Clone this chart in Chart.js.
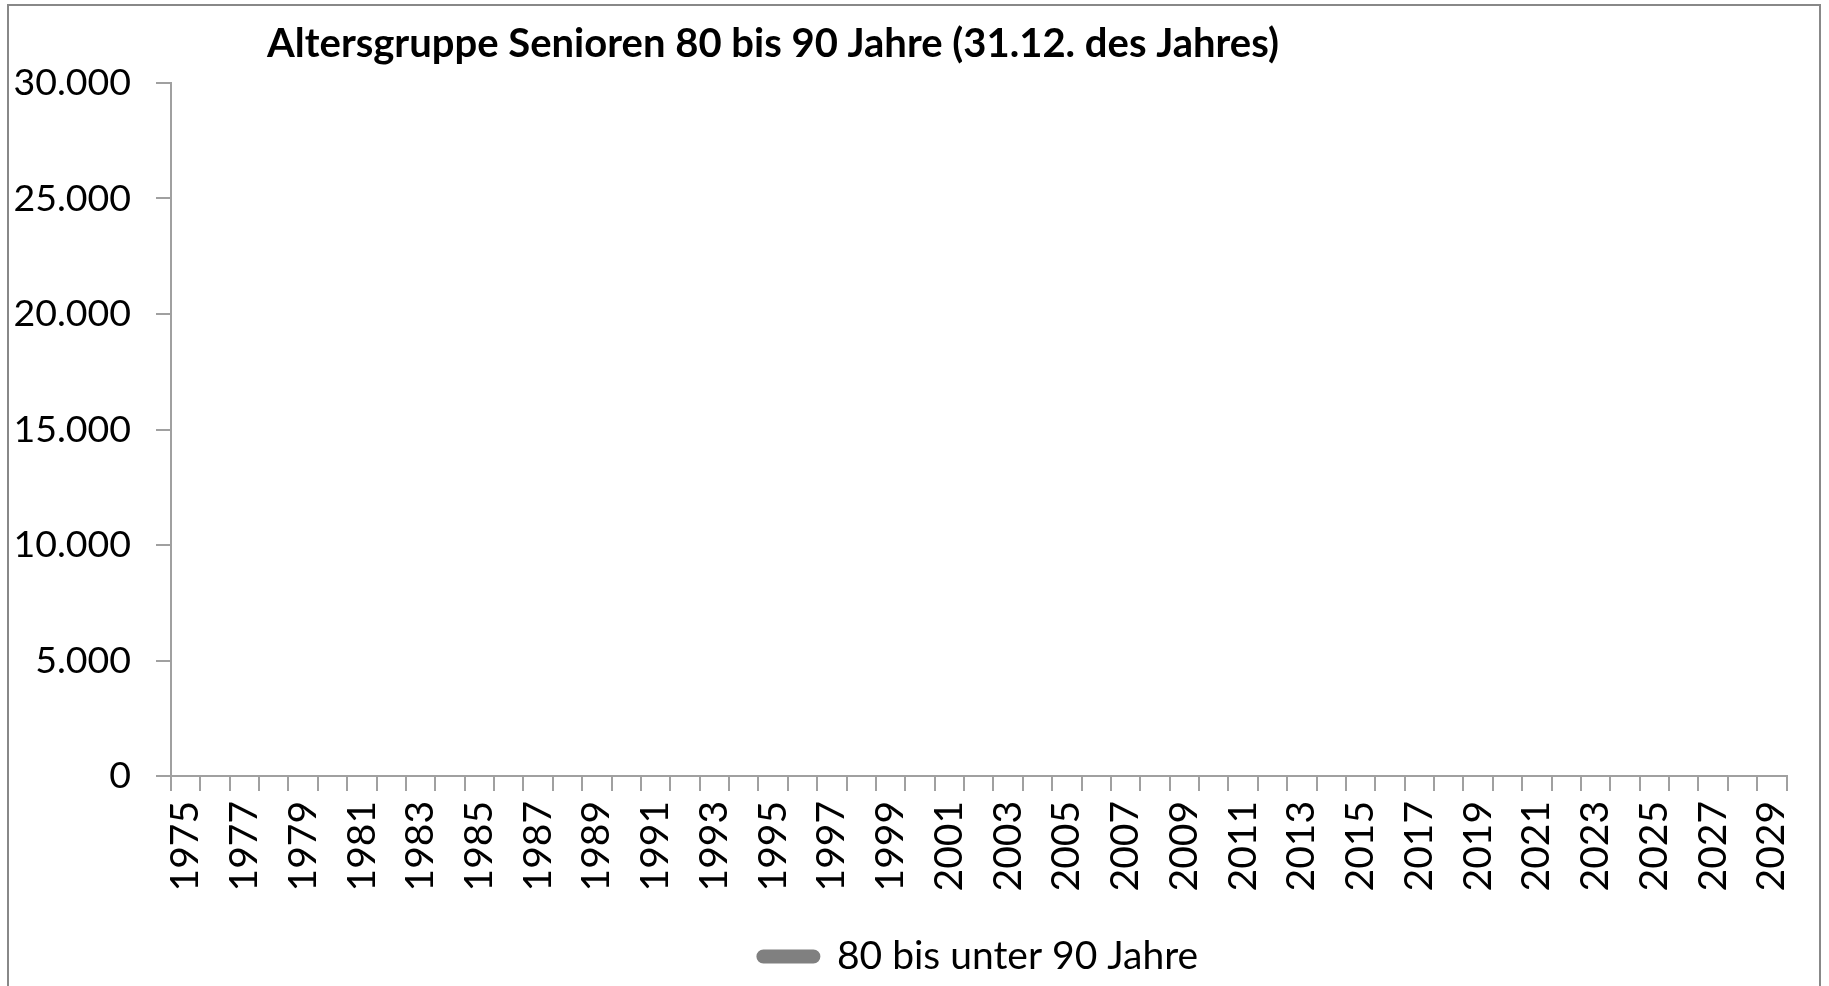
<!DOCTYPE html>
<html>
<head>
<meta charset="utf-8">
<script src="https://cdn.jsdelivr.net/npm/chart.js@4/dist/chart.umd.min.js"></script>
<style>
  html, body { margin: 0; padding: 0; background: #fff; overflow: hidden; }
  #frame { position: absolute; left: 7px; top: 4px; width: 1814px; height: 1000px; border: 2px solid #888; box-sizing: border-box; }
  #wrap { position: absolute; left: 0; top: 0; width: 1829px; height: 986px; }
</style>
</head>
<body>
<div id="frame"></div>
<div id="wrap"><canvas id="chart"></canvas></div>
<script>
// Jahre 1975 - 2029
const jahre = ['1975','1976','1977','1978','1979','1980','1981','1982','1983','1984','1985','1986','1987','1988','1989','1990','1991','1992','1993','1994','1995','1996','1997','1998','1999','2000','2001','2002','2003','2004','2005','2006','2007','2008','2009','2010','2011','2012','2013','2014','2015','2016','2017','2018','2019','2020','2021','2022','2023','2024','2025','2026','2027','2028','2029'];

// keine Werte im Bild sichtbar
const senioren80bis90 = [null,null,null,null,null,null,null,null,null,null,null,null,null,null,null,null,null,null,null,null,null,null,null,null,null,null,null,null,null,null,null,null,null,null,null,null,null,null,null,null,null,null,null,null,null,null,null,null,null,null,null,null,null,null,null];

const yTicks = [0, 5000, 10000, 15000, 20000, 25000, 30000];

const titel = 'Altersgruppe Senioren 80 bis 90 Jahre (31.12. des Jahres)';

Chart.defaults.font.family = 'Lato, "Open Sans", sans-serif';
Chart.defaults.color = '#000';

// Titel etwas links von der Mitte, wie im Original
const titelPlugin = {
    id: 'titelPlugin',
    afterDraw(chart) {
        const c = chart.ctx;
        c.save();
        c.font = 'bold 40px Lato, "Open Sans", sans-serif';
        c.fillStyle = '#000';
        c.textAlign = 'center';
        c.textBaseline = 'middle';
        c.fillText(titel, 773, 44);
        c.restore();
    }
};

const ctx = document.getElementById('chart').getContext('2d');
new Chart(ctx, {
    type: 'line',
    data: {
        labels: jahre,
        datasets: [{
            label: '80 bis unter 90 Jahre',
            data: senioren80bis90,
            borderColor: '#808080',
            backgroundColor: '#808080',
            borderWidth: 6,
            pointRadius: 0
        }]
    },
    options: {
        responsive: true,
        maintainAspectRatio: false,
        animation: false,
        layout: { padding: { left: 0, right: 38, top: 83, bottom: 0 } },
        plugins: {
            title: { display: false },
            tooltip: { enabled: false },
            legend: {
                position: 'bottom',
                fullSize: false,
                labels: {
                    font: { size: 39 },
                    color: '#000',
                    boxWidth: 58,
                    boxHeight: 8,
                    useBorderRadius: true,
                    borderRadius: 4,
                    padding: 7
                }
            }
        },
        scales: {
            x: {
                offset: true,
                afterFit: function (scale) { scale.height = 154; },
                grid: { offset: true, drawOnChartArea: false, drawTicks: true, tickLength: 15, color: '#a0a0a0', lineWidth: 2 },
                border: { color: '#a0a0a0', width: 2 },
                ticks: {
                    autoSkip: false,
                    maxRotation: 90,
                    minRotation: 90,
                    padding: 10,
                    font: { size: 39 },
                    color: '#000',
                    callback: function (val, i) { return i % 2 === 0 ? jahre[i] : ''; }
                }
            },
            y: {
                min: 0,
                max: 30000,
                afterFit: function (scale) { scale.width = 171; },
                afterBuildTicks: function (scale) { scale.ticks = yTicks.map(v => ({ value: v })); },
                grid: { drawOnChartArea: false, drawTicks: true, tickLength: 15, color: '#a0a0a0', lineWidth: 2 },
                border: { color: '#a0a0a0', width: 2 },
                ticks: {
                    padding: 25,
                    font: { size: 37.5 },
                    color: '#000',
                    callback: function (v) { return v.toLocaleString('de-DE'); }
                }
            }
        }
    },
    plugins: [titelPlugin]
});
</script>
</body>
</html>
